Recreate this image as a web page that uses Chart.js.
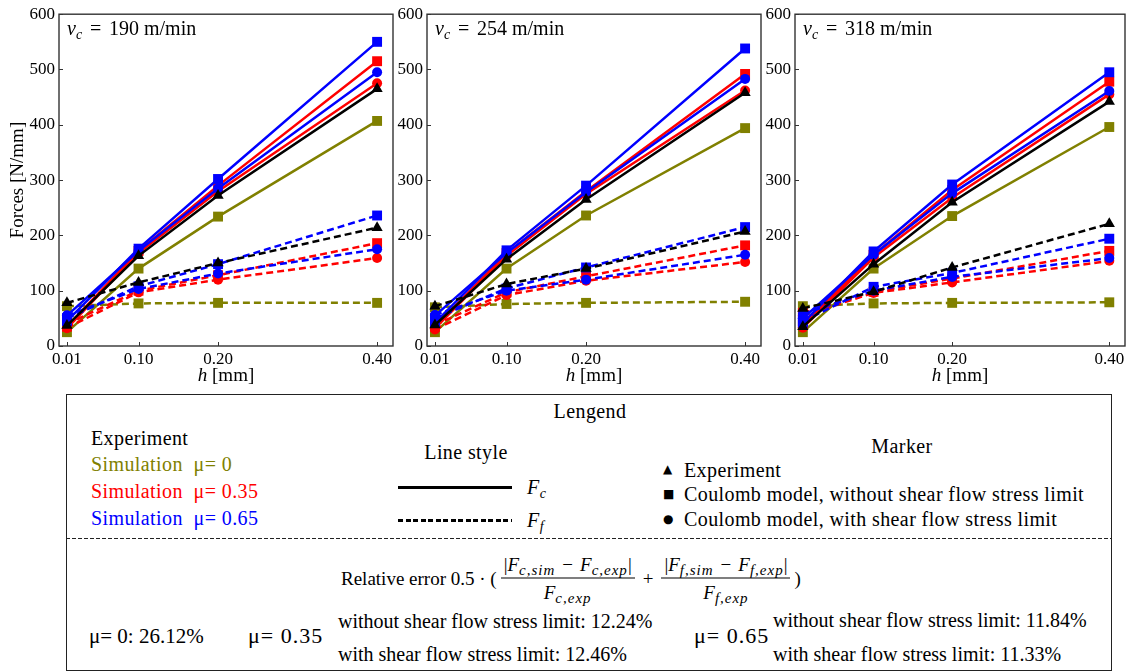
<!DOCTYPE html>
<html>
<head>
<meta charset="utf-8">
<script src="https://cdn.jsdelivr.net/npm/chart.js@4.4.1/dist/chart.umd.min.js"></script>
<style>
body { margin: 0; background: #fff; width: 1132px; height: 672px; position: relative; overflow: hidden;
       font-family: 'Liberation Serif', 'DejaVu Serif', serif; color: #000; }
canvas.panel { position: absolute; top: 0; }
.t { position: absolute; white-space: nowrap; font-size: 20px; letter-spacing: 0.4px; line-height: 1; transform: translateY(-50%); }
.c { transform: translate(-50%, -50%); }
.olive { color: #808000; }
.red { color: #ff0000; }
.blue { color: #0000ff; }
#box { position: absolute; left: 66px; top: 394px; width: 1046px; height: 277px; box-sizing: border-box; border: 1.3px solid #222; }
#sep { position: absolute; left: 66px; top: 538px; width: 1046px; height: 1.3px;
       background: repeating-linear-gradient(90deg, #222 0 4px, transparent 4px 6px); }
.solid { position: absolute; left: 398px; width: 114px; height: 3px; background: #000; }
.dashed { position: absolute; left: 398px; width: 114px; height: 3px;
          background: repeating-linear-gradient(90deg, #000 0 5px, transparent 5px 7.5px); }
.mk { position: absolute; font-family: 'DejaVu Sans', sans-serif; font-size: 12px; line-height: 1; transform: translateY(-50%); }
.frac { display: inline-flex; flex-direction: column; align-items: center; margin: 0 4px; }
.num { padding: 0 3px 4px; border-bottom: 1px solid #000; }
.den { padding-top: 4px; }
sub { font-size: 14px; font-style: italic; vertical-align: -4px; line-height: 0; }
.fm { font-size: 19px; letter-spacing: 0; }
.fm sub { font-size: 15px; letter-spacing: 1px; }
.mi { margin: 0 7px; }
.row { letter-spacing: 0; }
.big { font-size: 22px; letter-spacing: 1px; }
</style>
</head>
<body>
<canvas id="panel0" class="panel" width="400" height="390" style="left:0px"></canvas>
<canvas id="panel1" class="panel" width="400" height="390" style="left:368px"></canvas>
<canvas id="panel2" class="panel" width="396" height="390" style="left:736px"></canvas>

<div id="box"></div>
<div id="sep"></div>

<div class="t c" style="left:590px;top:411px">Lengend</div>
<div class="t" style="left:91px;top:438px">Experiment</div>
<div class="t olive" style="left:91px;top:464px">Simulation&nbsp; μ= 0</div>
<div class="t red" style="left:91px;top:491px">Simulation&nbsp; μ= 0.35</div>
<div class="t blue" style="left:91px;top:518px">Simulation&nbsp; μ= 0.65</div>

<div class="t c" style="left:466px;top:452px">Line style</div>
<div class="solid" style="top:486px"></div>
<div class="t" style="left:527px;top:487px"><i>F</i><sub>c</sub></div>
<div class="dashed" style="top:519px"></div>
<div class="t" style="left:527px;top:520px"><i>F</i><sub>f</sub></div>

<div class="t c" style="left:902px;top:446px">Marker</div>
<div class="mk" style="left:663px;top:469px">▲</div>
<div class="t" style="left:684px;top:470px">Experiment</div>
<div class="mk" style="left:663px;top:494px">■</div>
<div class="t" style="left:684px;top:494px">Coulomb model, without shear flow stress limit</div>
<div class="mk" style="left:663px;top:519px">●</div>
<div class="t" style="left:684px;top:519px">Coulomb model, with shear flow stress limit</div>

<div class="t fm" style="left:341px;top:578px;display:flex;align-items:center;">
  <span>Relative error 0.5 · (</span>
  <span class="frac"><span class="num">|<i>F</i><sub>c,sim</sub><span class="mi">−</span><i>F</i><sub>c,exp</sub>|</span><span class="den"><i>F</i><sub>c,exp</sub></span></span>
  <span style="margin:0 4px">+</span>
  <span class="frac"><span class="num">|<i>F</i><sub>f,sim</sub><span class="mi">−</span><i>F</i><sub>f,exp</sub>|</span><span class="den"><i>F</i><sub>f,exp</sub></span></span>
  <span>)</span>
</div>

<div class="t row" style="left:89px;top:636px;font-size:21px">μ= 0: 26.12%</div>
<div class="t big" style="left:248px;top:636px">μ= 0.35</div>
<div class="t row" style="left:338px;top:621px">without shear flow stress limit: 12.24%</div>
<div class="t row" style="left:338px;top:654px">with shear flow stress limit: 12.46%</div>
<div class="t big" style="left:694px;top:636px">μ= 0.65</div>
<div class="t row" style="left:773px;top:620px">without shear flow stress limit: 11.84%</div>
<div class="t row" style="left:773px;top:654px">with shear flow stress limit: 11.33%</div>

<script>
// uncut chip thickness h [mm]
const hValues = [0.01, 0.10, 0.20, 0.40];
// cutting speeds, one panel each
const speeds = [190, 254, 318];

// forces [N/mm], one row per speed, one value per h
const fcExp     = [[37, 163, 272, 465], [38, 157, 265, 458], [35, 148, 260, 442]];
const fcMu0     = [[25, 140, 234, 407], [25, 140, 236, 394], [25, 140, 235, 396]];
const fcMu035Sq = [[35, 172, 290, 515], [35, 168, 280, 492], [38, 165, 282, 478]];
const fcMu035Ci = [[32, 168, 280, 475], [32, 163, 275, 462], [33, 160, 268, 455]];
const fcMu065Sq = [[45, 176, 302, 550], [42, 173, 290, 538], [42, 171, 292, 495]];
const fcMu065Ci = [[55, 172, 285, 495], [55, 168, 278, 483], [50, 165, 276, 461]];

const ffExp     = [[78, 115, 150, 214], [72, 112, 140, 207], [68, 98, 142, 221]];
const ffMu0     = [[72, 77, 78, 78], [70, 76, 78, 80], [72, 77, 78, 79]];
const ffMu035Sq = [[40, 100, 128, 186], [38, 97, 126, 182], [60, 98, 122, 172]];
const ffMu035Ci = [[33, 97, 120, 159], [30, 92, 118, 152], [55, 96, 115, 154]];
const ffMu065Sq = [[50, 108, 148, 236], [50, 104, 142, 215], [45, 107, 132, 194]];
const ffMu065Ci = [[55, 103, 131, 175], [56, 100, 120, 165], [58, 100, 125, 159]];

const BLACK = '#000000', OLIVE = '#808000', RED = '#ff0000', BLUE = '#0000ff';
const FONT = "'Liberation Serif', 'DejaVu Serif', serif";

const series = [
  { values: fcExp, color: BLACK, marker: 'triangle', dashed: false },
  { values: ffExp, color: BLACK, marker: 'triangle', dashed: true },
  { values: fcMu065Sq, color: BLUE, marker: 'rect', dashed: false },
  { values: fcMu065Ci, color: BLUE, marker: 'circle', dashed: false },
  { values: ffMu065Sq, color: BLUE, marker: 'rect', dashed: true },
  { values: ffMu065Ci, color: BLUE, marker: 'circle', dashed: true },
  { values: fcMu035Sq, color: RED, marker: 'rect', dashed: false },
  { values: fcMu035Ci, color: RED, marker: 'circle', dashed: false },
  { values: ffMu035Sq, color: RED, marker: 'rect', dashed: true },
  { values: ffMu035Ci, color: RED, marker: 'circle', dashed: true },
  { values: fcMu0, color: OLIVE, marker: 'rect', dashed: false },
  { values: ffMu0, color: OLIVE, marker: 'rect', dashed: true },
];
const markerRadius = { triangle: 6.5, rect: 7, circle: 5 };

// box around the plot, inward ticks, axis titles and the speed label
const framePlugin = {
  id: 'frame',
  afterDraw(chart, args, opts) {
    const { ctx, chartArea: a, scales } = chart;
    ctx.save();
    ctx.strokeStyle = '#333';
    ctx.lineWidth = 1.4;
    ctx.strokeRect(a.left, a.top, a.right - a.left, a.bottom - a.top);
    ctx.lineWidth = 1;
    ctx.beginPath();
    scales.x.ticks.forEach(t => {
      const px = Math.round(scales.x.getPixelForValue(t.value)) + 0.5;
      ctx.moveTo(px, a.bottom); ctx.lineTo(px, a.bottom - 4);
    });
    scales.y.ticks.forEach(t => {
      const py = Math.round(scales.y.getPixelForValue(t.value)) + 0.5;
      ctx.moveTo(a.left, py); ctx.lineTo(a.left + 4, py);
    });
    ctx.stroke();

    ctx.fillStyle = '#000';
    ctx.textBaseline = 'alphabetic';
    // v_c = ... m/min
    let x = a.left + 8, y = a.top + 21;
    ctx.font = 'italic 20px ' + FONT;
    ctx.fillText('v', x, y);
    x += ctx.measureText('v').width;
    ctx.font = 'italic 14px ' + FONT;
    ctx.fillText('c', x, y + 4);
    ctx.font = '20px ' + FONT;
    ctx.fillText('=', a.left + 31, y);
    ctx.fillText(opts.speed + ' m/min', a.left + 50, y);

    // x title
    ctx.font = 'italic 19px ' + FONT;
    const wh = ctx.measureText('h').width;
    ctx.font = '19px ' + FONT;
    const wr = ctx.measureText(' [mm]').width;
    const cx = (a.left + a.right) / 2 - (wh + wr) / 2;
    ctx.textBaseline = 'middle';
    ctx.font = 'italic 19px ' + FONT;
    ctx.fillText('h', cx, 376);
    ctx.font = '19px ' + FONT;
    ctx.fillText(' [mm]', cx + wh, 376);

    if (opts.yTitle) {
      ctx.translate(18, (a.top + a.bottom) / 2);
      ctx.rotate(-Math.PI / 2);
      ctx.textAlign = 'center';
      ctx.fillText('Forces [N/mm]', 0, 0);
    }
    ctx.restore();
  }
};

speeds.forEach((speed, p) => {
  const canvas = document.getElementById('panel' + p);
  new Chart(canvas, {
    type: 'line',
    data: {
      datasets: series.map(s => ({
        data: hValues.map((h, i) => ({ x: h, y: s.values[p][i] })),
        borderColor: s.color,
        backgroundColor: s.color,
        borderWidth: 2.5,
        borderDash: s.dashed ? [7, 4] : [],
        pointStyle: s.marker,
        pointRadius: markerRadius[s.marker],
        pointBorderWidth: 0,
        pointBackgroundColor: s.color,
        tension: 0,
        clip: false
      }))
    },
    options: {
      responsive: false,
      animation: false,
      events: [],
      layout: { padding: { top: 14, right: canvas.width - 59 - 335, left: 0, bottom: 0 } },
      plugins: {
        legend: { display: false },
        tooltip: { enabled: false },
        frame: { speed: speed, yTitle: p === 0 }
      },
      scales: {
        x: {
          type: 'linear', min: 0, max: 0.42,
          afterBuildTicks: ax => { ax.ticks = hValues.map(v => ({ value: v })); },
          ticks: { callback: v => v.toFixed(2), autoSkip: false, maxRotation: 0,
                   font: { family: FONT, size: 17 }, color: '#000', padding: 3 },
          grid: { display: false, drawTicks: false },
          border: { display: false },
          afterFit: s => { s.height = 44; }
        },
        y: {
          min: 0, max: 600,
          ticks: { stepSize: 100, font: { family: FONT, size: 17 }, color: '#000', padding: 4 },
          grid: { display: false, drawTicks: false },
          border: { display: false },
          afterFit: s => { s.width = 59; }
        }
      }
    },
    plugins: [framePlugin]
  });
});
</script>
</body>
</html>
